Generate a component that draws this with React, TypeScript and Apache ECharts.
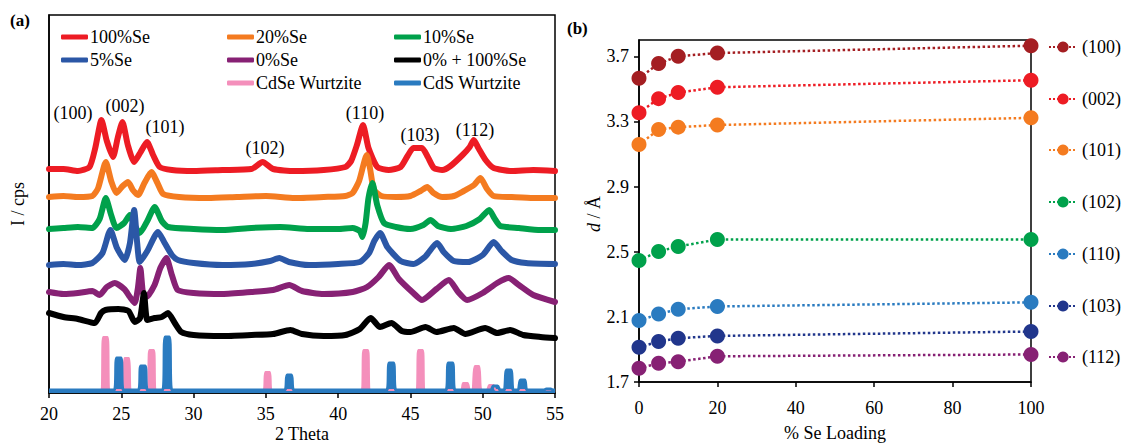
import React, { useEffect, useRef } from "react";
import * as echarts from "echarts";

const SERIF = "Liberation Serif";

// ---------- Panel (a): XRD patterns (2 Theta, intensity in arbitrary units) ----------
const xrdNames = ["100%Se", "20%Se", "10%Se", "5%Se", "0%Se", "0% + 100%Se"];
const xrdColors = ["#ED1C24", "#F47B20", "#00A14B", "#2B57A6", "#872174", "#000000"];

const red100: number[][] = [
  [20, 224], [21, 224], [22, 222], [22.8, 226], [23.2, 245], [23.63, 273], [24.0, 252], [24.43, 236],
  [24.75, 255], [25.08, 271], [25.45, 248], [25.89, 231], [26.3, 240], [26.78, 251], [27.2, 238],
  [27.66, 226], [28.5, 223], [30, 222], [32, 223], [34, 224], [34.78, 231], [35.5, 224], [37, 222],
  [39, 223], [40.5, 226], [40.9, 232], [41.3, 248], [41.72, 268], [42.1, 245], [42.71, 226],
  [43.5, 223], [44.32, 226], [44.8, 237], [45.2, 245], [45.8, 245], [46.2, 236], [46.62, 225],
  [47.2, 223], [47.77, 227], [48.6, 238], [49.1, 246], [49.38, 253], [49.7, 245], [50.2, 233],
  [50.76, 225], [52, 222], [53.5, 223], [55, 222],
];
const orange20: number[][] = [
  [20, 196], [21, 197], [22, 196], [23, 197], [23.4, 205], [23.93, 231], [24.3, 212], [24.67, 200],
  [25.1, 207], [25.47, 211], [25.8, 203], [26.16, 198], [26.6, 210], [27.08, 221], [27.5, 210],
  [27.9, 199], [29, 196], [31, 195], [33, 196], [35, 197], [37, 195], [39, 196], [40.5, 197],
  [41.0, 200], [41.45, 212], [41.98, 238], [42.2, 225], [42.48, 203], [43, 197], [44, 196],
  [45, 197], [45.7, 202], [46.16, 206], [46.6, 200], [47.2, 196], [48, 197], [48.69, 202],
  [49.4, 208], [49.84, 215], [50.3, 204], [50.76, 197], [52, 196], [53.5, 195], [55, 195],
];
const green10: number[][] = [
  [20, 164], [21, 165], [22, 166], [23, 165], [23.5, 174], [23.93, 195], [24.3, 178], [24.67, 165],
  [25.2, 170], [25.59, 178], [25.9, 168], [26.28, 160], [26.8, 172], [27.31, 186], [27.8, 172],
  [28.23, 166], [30, 164], [32, 163], [34, 165], [36, 166], [38, 164], [40, 164], [41, 165],
  [41.5, 162], [41.68, 156], [41.9, 170], [42.1, 195], [42.37, 210], [42.7, 188], [43.17, 170],
  [44, 166], [45, 164], [45.9, 168], [46.39, 173], [46.9, 167], [47.8, 164], [48.87, 167],
  [49.8, 174], [50.45, 183], [50.8, 175], [51.22, 167], [52.5, 165], [54, 163], [55, 163],
];
const blue5: number[][] = [
  [20, 128], [21, 129], [22, 128], [23, 130], [23.7, 140], [24.25, 163], [24.7, 145], [25.24, 133],
  [25.6, 150], [25.89, 183], [26.1, 150], [26.28, 131], [26.8, 142], [27.54, 161], [28.0, 150],
  [28.5, 138], [28.92, 133], [30, 130], [32, 128], [34, 129], [35.3, 132], [35.93, 135], [36.6, 131],
  [38, 128], [40, 129], [41.5, 131], [42.14, 140], [42.5, 152], [42.9, 160], [43.4, 146],
  [44.32, 132], [45.2, 129], [46.0, 136], [46.85, 150], [47.3, 141], [48, 132], [49, 131],
  [50.0, 138], [50.76, 151], [51.3, 142], [52, 133], [53, 130], [55, 129],
];
const purple0: number[][] = [
  [20, 101], [21, 99], [22, 100], [23, 102], [23.5, 98], [24, 106], [24.55, 110], [25.2, 104],
  [25.6, 96], [25.93, 90], [26.15, 105], [26.32, 125], [26.5, 100], [26.74, 96], [27.3, 108],
  [27.7, 125], [28.12, 135], [28.5, 118], [28.9, 103], [30, 100], [32, 99], [34, 101], [35.5, 103],
  [36.62, 108], [37.5, 102], [39, 99], [41, 101], [42, 106], [42.8, 116], [43.52, 128], [44.2, 114],
  [45.2, 100], [45.8, 93], [46.8, 104], [47.66, 113], [48.3, 101], [48.92, 93], [50, 100],
  [51, 110], [51.79, 115], [52.5, 108], [53.5, 98], [55, 91],
];
const black0p100: number[][] = [
  [20, 80], [21, 76], [22, 74], [23.17, 70], [23.6, 80], [23.9, 83], [24.8, 84], [25.5, 82],
  [25.93, 71], [26.3, 75], [26.57, 100], [26.8, 73], [27.3, 75], [27.8, 76], [28.23, 80],
  [28.7, 70], [29.15, 61], [30, 58], [32, 57], [34, 58], [35.5, 59], [36.7, 63], [37.5, 59],
  [39, 57], [40.5, 58], [41.5, 64], [42.25, 75], [42.9, 66], [43.68, 70], [44.4, 62], [45, 61],
  [46.04, 66], [46.8, 61], [48.0, 65], [48.8, 59], [50.17, 65], [51.0, 60], [51.9, 63],
  [52.8, 58], [54, 56], [55, 55],
];
const xrdData = [red100, orange20, green10, blue5, purple0, black0p100];

// reference patterns
const cdseName = "CdSe Wurtzite";
const cdsName = "CdS Wurtzite";
const cdseColor = "#F48FBB";
const cdsColor = "#2A7BC0";
const cdsePos = [23.9, 25.38, 27.1, 35.12, 41.91, 45.7, 48.8, 49.6, 50.6];
const cdseInt = [56, 35, 43, 21, 43, 43, 10, 27, 8];
const cdsPos = [24.83, 26.5, 28.18, 36.62, 43.68, 47.77, 50.88, 51.8, 52.76, 54.55];
const cdsInt = [35, 27, 56, 18, 30, 30, 7, 23, 13, 4];
const refBase = 3;

const peakLabels = ["(100)", "(002)", "(101)", "(102)", "(110)", "(103)", "(112)"];
const peakLabelPos = [[73, 113], [125, 106], [165, 127], [265, 148], [365, 113], [420, 135], [475, 130]];

// ---------- Panel (b): d-spacing vs % Se loading ----------
const loading = [0, 5, 10, 20, 100];
const planeNames = ["(100)", "(002)", "(101)", "(102)", "(110)", "(103)", "(112)"];
const planeColors = ["#A41E22", "#ED1C24", "#F47B20", "#00A14B", "#2A7BC0", "#21368C", "#872174"];
const d100 = [3.565, 3.655, 3.7, 3.72, 3.765];
const d002 = [3.353, 3.44, 3.477, 3.51, 3.553];
const d101 = [3.158, 3.25, 3.265, 3.278, 3.322];
const d102 = [2.446, 2.502, 2.532, 2.575, 2.575];
const d110 = [2.077, 2.117, 2.147, 2.164, 2.189];
const d103 = [1.913, 1.948, 1.969, 1.983, 2.01];
const d112 = [1.784, 1.815, 1.825, 1.858, 1.869];
const dValues = [d100, d002, d101, d102, d110, d103, d112];
const dTicks = [1.7, 2.1, 2.5, 2.9, 3.3, 3.7];

function peaksToLine(pos: number[], hts: number[]) {
  const pts: number[][] = [[20, refBase]];
  pos.forEach((p, i) => {
    pts.push([p - 0.32, refBase], [p - 0.15, hts[i]], [p + 0.15, hts[i]], [p + 0.32, refBase]);
  });
  pts.push([55, refBase]);
  return pts;
}

export default function App() {
  const ref = useRef<HTMLDivElement>(null);
  useEffect(() => {
    document.body.style.margin = "0";
    if (!ref.current) return;
    const chart = echarts.init(ref.current, undefined, { renderer: "svg" });

    const txt = { fontFamily: SERIF, fontSize: 18, color: "#000" };
    const gtxt = (text: string, extra: any = {}) => ({
      text, fontFamily: SERIF, fontSize: 18, fill: "#000", align: "center", verticalAlign: "middle", ...extra,
    });

    const series: any[] = xrdData.map((d, i) => ({
      name: xrdNames[i],
      type: "line",
      xAxisIndex: 0,
      yAxisIndex: 0,
      data: d,
      symbol: "none",
      smooth: 0.2,
      color: xrdColors[i],
      lineStyle: { width: 6, color: xrdColors[i], join: "round", cap: "round" },
    }));
    series.push({
      name: cdseName,
      type: "line",
      xAxisIndex: 0,
      yAxisIndex: 0,
      data: peaksToLine(cdsePos, cdseInt),
      symbol: "none",
      smooth: 0.3,
      color: cdseColor,
      lineStyle: { width: 2, color: cdseColor },
      areaStyle: { color: cdseColor, opacity: 1 },
    });
    series.push({
      name: cdsName,
      type: "line",
      xAxisIndex: 0,
      yAxisIndex: 0,
      data: peaksToLine(cdsPos, cdsInt),
      symbol: "none",
      smooth: 0.3,
      color: cdsColor,
      lineStyle: { width: 3, color: cdsColor },
      areaStyle: { color: cdsColor, opacity: 1 },
    });
    dValues.forEach((vals, i) => {
      series.push({
        name: planeNames[i],
        type: "line",
        xAxisIndex: 1,
        yAxisIndex: 1,
        data: loading.map((x, j) => [x, vals[j]]),
        symbol: "circle",
        symbolSize: 15,
        color: planeColors[i],
        itemStyle: { color: planeColors[i] },
        lineStyle: { width: 2.5, type: "dotted", color: planeColors[i] },
      });
    });

    // legends for panel (a): three columns
    const legendCells: [string, number, number][] = [
      [xrdNames[0], 0, 0], [xrdNames[1], 1, 0], [xrdNames[2], 2, 0],
      [xrdNames[3], 0, 1], [xrdNames[4], 1, 1], [xrdNames[5], 2, 1],
      [cdseName, 1, 2], [cdsName, 2, 2],
    ];
    const colX = [61, 227, 394];
    const rowY = [38, 61, 84];
    const legends: any[] = legendCells.map(([name, c, r]) => ({
      data: [name],
      left: colX[c],
      top: rowY[r] - 10,
      icon: "roundRect",
      itemWidth: 27,
      itemHeight: 5,
      padding: 0,
      selectedMode: false,
      textStyle: { ...txt, padding: [0, 0, 0, -3] },
    }));
    const legYb = [47, 99, 150, 202, 254, 306, 357];
    planeNames.forEach((name, i) => {
      legends.push({
        data: [name],
        left: 1048,
        top: legYb[i] - 9,
        itemWidth: 28,
        itemHeight: 14,
        padding: 0,
        selectedMode: false,
        textStyle: { ...txt },
      });
    });

    const option: any = {
      animation: false,
      backgroundColor: "#fff",
      textStyle: { fontFamily: SERIF },
      legend: legends,
      grid: [
        { left: 49, top: 15, width: 506, height: 378, show: true, borderColor: "#000", borderWidth: 1.5, containLabel: false },
        { left: 639, top: 40, width: 392, height: 342, show: true, borderColor: "#000", borderWidth: 1.5, containLabel: false },
      ],
      xAxis: [
        {
          gridIndex: 0, type: "value", min: 20, max: 55, interval: 5,
          axisLine: { lineStyle: { color: "#000", width: 1.5 } },
          axisTick: { length: 5, lineStyle: { color: "#000", width: 1.5 } },
          axisLabel: { ...txt, margin: 12 },
          splitLine: { show: false },
        },
        {
          gridIndex: 1, type: "value", min: 0, max: 100, interval: 20,
          axisLine: { lineStyle: { color: "#000", width: 1.5 } },
          axisTick: { length: 5, lineStyle: { color: "#000", width: 1.5 } },
          axisLabel: { ...txt, margin: 17 },
          splitLine: { show: false },
        },
      ],
      yAxis: [
        {
          gridIndex: 0, type: "value", min: 0, max: 378,
          axisLine: { show: true, lineStyle: { color: "#000", width: 1.5 } },
          axisTick: { show: false },
          axisLabel: { show: false },
          splitLine: { show: false },
        },
        {
          gridIndex: 1, type: "value", min: 1.7, max: 3.8,
          axisLine: { show: true, lineStyle: { color: "#000", width: 1.5 } },
          axisTick: { length: 5, customValues: dTicks, lineStyle: { color: "#000", width: 1.5 } },
          axisLabel: { ...txt, margin: 10, customValues: dTicks, formatter: (v: number) => v.toFixed(1) },
          splitLine: { show: false },
        },
      ],
      graphic: [
        { type: "text", x: 10, y: 20, style: gtxt("(a)", { fontWeight: "bold", fontSize: 17, align: "left" }) },
        { type: "text", x: 567, y: 28, style: gtxt("(b)", { fontWeight: "bold", fontSize: 17, align: "left" }) },
        { type: "text", x: 302, y: 434, style: gtxt("2 Theta") },
        { type: "text", x: 835, y: 433, style: gtxt("% Se Loading") },
        { type: "text", x: 18, y: 204, rotation: Math.PI / 2, style: gtxt("I / cps") },
        {
          type: "text", x: 594, y: 214, rotation: Math.PI / 2,
          style: gtxt("{i|d} / Å", {
            rich: { i: { fontStyle: "italic", fontFamily: SERIF, fontSize: 18, fill: "#000" } },
          }),
        },
        ...peakLabels.map((t, i) => ({
          type: "text", x: peakLabelPos[i][0], y: peakLabelPos[i][1], z: 100,
          style: gtxt(t),
        })),
      ],
      series,
    };
    chart.setOption(option);
    return () => chart.dispose();
  }, []);
  return <div ref={ref} style={{ width: 1125, height: 444 }} />;
}
